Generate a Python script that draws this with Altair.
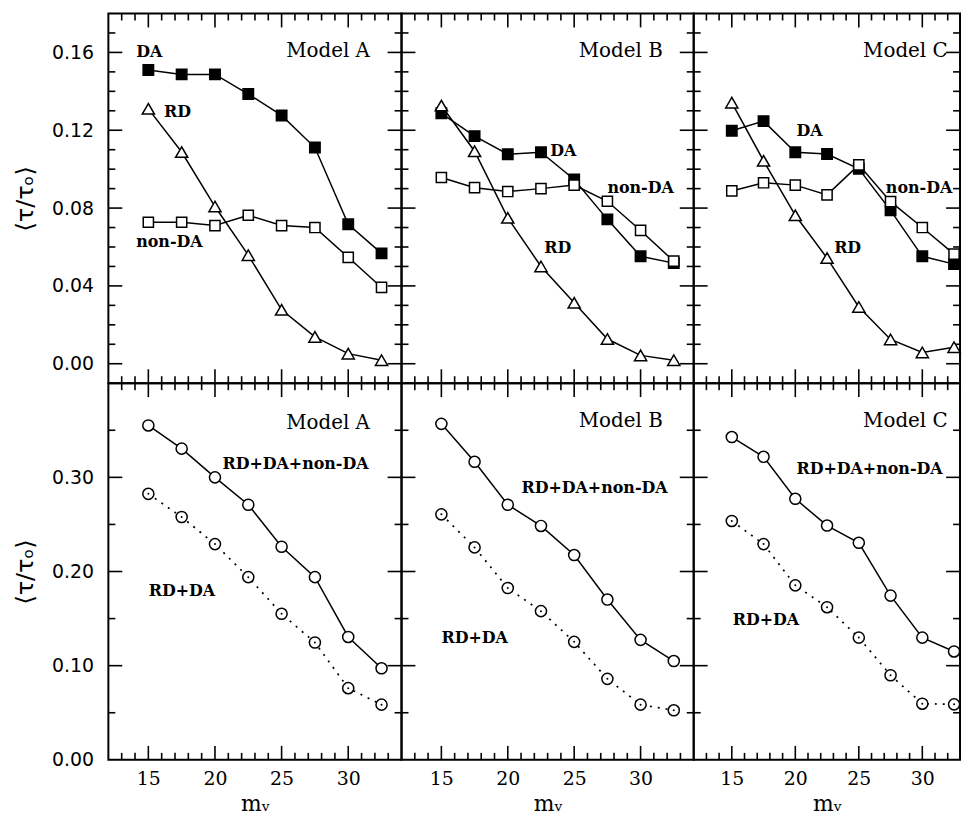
import altair as alt
import pandas as pd

# ---------------- data ----------------
MV = [15, 17.5, 20, 22.5, 25, 27.5, 30, 32.5]

A_DA = [0.1510, 0.1487, 0.1487, 0.1386, 0.1276, 0.1111, 0.0717, 0.0567]
A_RD = [0.1310, 0.1088, 0.0808, 0.0558, 0.0277, 0.0138, 0.0052, 0.0018]
A_NONDA = [0.0727, 0.0727, 0.0710, 0.0763, 0.0710, 0.0700, 0.0547, 0.0392]

B_DA = [0.1287, 0.1170, 0.1077, 0.1087, 0.0947, 0.0742, 0.0552, 0.0517]
B_RD = [0.1327, 0.1092, 0.0750, 0.0500, 0.0313, 0.0127, 0.0043, 0.0018]
B_NONDA = [0.0957, 0.0905, 0.0885, 0.0900, 0.0918, 0.0835, 0.0685, 0.0527]

C_DA = [0.1197, 0.1247, 0.1087, 0.1078, 0.1002, 0.0788, 0.0552, 0.0512]
C_RD = [0.1342, 0.1043, 0.0763, 0.0543, 0.0292, 0.0125, 0.0058, 0.0085]
C_NONDA = [0.0888, 0.0930, 0.0918, 0.0868, 0.1022, 0.0833, 0.0700, 0.0563]

A_ALL = [0.3551, 0.3305, 0.3000, 0.2709, 0.2263, 0.1940, 0.1305, 0.0972]
A_RDDA = [0.2825, 0.2579, 0.2291, 0.1940, 0.1551, 0.1246, 0.0761, 0.0586]
B_ALL = [0.3568, 0.3165, 0.2709, 0.2484, 0.2175, 0.1702, 0.1274, 0.1049]
B_RDDA = [0.2607, 0.2256, 0.1825, 0.1579, 0.1253, 0.0860, 0.0586, 0.0526]
C_ALL = [0.3428, 0.3218, 0.2772, 0.2488, 0.2305, 0.1744, 0.1298, 0.1151]
C_RDDA = [0.2537, 0.2291, 0.1853, 0.1621, 0.1298, 0.0898, 0.0596, 0.0589]

# text labels: (text, x, y, align, kind)
TOP_LABELS = {
    "A": [("Model A", 31.63, 0.1607, "right", "model"), ("DA", 14.09, 0.1602, "left", "tag"),
          ("RD", 16.18, 0.1296, "left", "tag"), ("non-DA", 14.09, 0.0625, "left", "tag")],
    "B": [("Model B", 31.67, 0.1607, "right", "model"), ("DA", 23.2, 0.1091, "left", "tag"),
          ("non-DA", 27.5, 0.0902, "left", "tag"), ("RD", 22.75, 0.0595, "left", "tag")],
    "C": [("Model C", 32.0, 0.1607, "right", "model"), ("DA", 20.09, 0.1196, "left", "tag"),
          ("non-DA", 27.13, 0.0902, "left", "tag"), ("RD", 23.06, 0.0595, "left", "tag")],
}
BOT_LABELS = {
    "A": [("Model A", 31.63, 0.3582, "right", "model"), ("RD+DA+non-DA", 20.56, 0.3144, "left", "tag"),
          ("RD+DA", 15.03, 0.1793, "left", "tag")],
    "B": [("Model B", 31.67, 0.3593, "right", "model"), ("RD+DA+non-DA", 21.03, 0.2891, "left", "tag"),
          ("RD+DA", 15.01, 0.1291, "left", "tag")],
    "C": [("Model C", 32.0, 0.3593, "right", "model"), ("RD+DA+non-DA", 20.09, 0.3091, "left", "tag"),
          ("RD+DA", 15.07, 0.1487, "left", "tag")],
}

# axis tick positions
X_MAJOR = [15, 20, 25, 30]
X_MINOR = [13, 14, 16, 17, 18, 19, 21, 22, 23, 24, 26, 27, 28, 29, 31, 32, 33]
TOP_Y_MAJOR = [0.0, 0.04, 0.08, 0.12, 0.16]
TOP_Y_MINOR = [0.01, 0.02, 0.03, 0.05, 0.06, 0.07, 0.09, 0.10, 0.11, 0.13, 0.14, 0.15, 0.17]
BOT_Y_MAJOR = [0.0, 0.1, 0.2, 0.3]
BOT_Y_MINOR = [0.05, 0.15, 0.25, 0.35]

# the right-hand panel is cut by the figure's right border
WIDTHS = {"A": 295, "B": 294, "C": 268}
XDOM = {"A": [12, 34], "B": [12, 34], "C": [12, 32.97]}
H_TOP = 372
H_BOT = 379
MAJ = 14
MIN = 7


def tick_layers(W, H, xs, ys, xax, yax, xmaj, xmin, ymaj, ymin):
    layers = []
    for vals, L in ((ymaj, MAJ), (ymin, MIN)):
        df = pd.DataFrame({"v": vals})
        base = alt.Chart(df).mark_rule(color="black", strokeWidth=1.6)
        layers.append(base.encode(y=alt.Y("v:Q", scale=ys, axis=yax), x=alt.value(0), x2=alt.value(L)))
        layers.append(base.encode(y=alt.Y("v:Q", scale=ys, axis=yax), x=alt.value(W), x2=alt.value(W - L)))
    for vals, L in ((xmaj, MAJ), (xmin, MIN)):
        df = pd.DataFrame({"v": vals})
        base = alt.Chart(df).mark_rule(color="black", strokeWidth=1.6)
        layers.append(base.encode(x=alt.X("v:Q", scale=xs, axis=xax), y=alt.value(H), y2=alt.value(H - L)))
        layers.append(base.encode(x=alt.X("v:Q", scale=xs, axis=xax), y=alt.value(0), y2=alt.value(L)))
    return layers


def text_layers(labels, xs, ys, xax, yax):
    layers = []
    for t, x, y, align, kind in labels:
        df = pd.DataFrame({"x": [x], "y": [y], "t": [t]})
        if kind == "model":
            mk = alt.Chart(df).mark_text(align=align, baseline="middle", font="DejaVu Serif",
                                         fontSize=20, color="black")
        else:
            mk = alt.Chart(df).mark_text(align=align, baseline="middle", font="DejaVu Serif",
                                         fontSize=16, fontWeight="bold", color="black")
        layers.append(mk.encode(x=alt.X("x:Q", scale=xs, axis=xax), y=alt.Y("y:Q", scale=ys, axis=yax),
                                text="t:N"))
    return layers


def y_axis(values, show):
    if not show:
        return None
    return alt.Axis(values=values, format=".2f", ticks=False, tickSize=0, domain=False, grid=False,
                    labelFont="DejaVu Sans", labelFontSize=19, labelPadding=15, labelColor="black",
                    title="⟨τ/τₒ⟩", titleFont="DejaVu Sans", titleFontSize=24,
                    titleFontWeight="normal", titlePadding=14, titleColor="black")


def x_axis(show):
    if not show:
        return None
    return alt.Axis(values=X_MAJOR, format="d", ticks=False, tickSize=0, domain=False, grid=False,
                    labelFont="DejaVu Serif", labelFontSize=19, labelPadding=10, labelColor="black",
                    title="mᵥ", titleFont="DejaVu Serif", titleFontSize=22,
                    titleFontWeight="normal", titlePadding=5, titleColor="black")


def top_panel(key, da, rd, nonda):
    W = WIDTHS[key]
    xs = alt.Scale(domain=XDOM[key], nice=False, zero=False)
    ys = alt.Scale(domain=[-0.01, 0.18], nice=False, zero=False)
    xax = None
    yax = y_axis(TOP_Y_MAJOR, key == "A")
    layers = []
    specs = [
        (da, dict(shape="square", filled=True, fill="black", stroke="black", size=110)),
        (nonda, dict(shape="square", filled=True, fill="white", stroke="black", size=105)),
        (rd, dict(shape="triangle-up", filled=True, fill="white", stroke="black", size=150)),
    ]
    xmin = [v for v in X_MINOR if v < XDOM[key][1] - 0.3]
    layers += tick_layers(W, H_TOP, xs, ys, xax, yax, X_MAJOR, xmin, TOP_Y_MAJOR, TOP_Y_MINOR)
    for vals, style in specs:
        df = pd.DataFrame({"x": MV, "y": vals})
        enc = dict(x=alt.X("x:Q", scale=xs, axis=xax), y=alt.Y("y:Q", scale=ys, axis=yax))
        layers.append(alt.Chart(df).mark_line(color="black", strokeWidth=1.5).encode(**enc))
        layers.append(alt.Chart(df).mark_point(strokeWidth=1.5, opacity=1, **style).encode(**enc))
    layers += text_layers(TOP_LABELS[key], xs, ys, xax, yax)
    return alt.layer(*layers).properties(width=W, height=H_TOP)


def bot_panel(key, allv, rdda):
    W = WIDTHS[key]
    xs = alt.Scale(domain=XDOM[key], nice=False, zero=False)
    ys = alt.Scale(domain=[0.0, 0.40], nice=False, zero=False)
    xax = x_axis(True)
    yax = y_axis(BOT_Y_MAJOR, key == "A")
    xmin = [v for v in X_MINOR if v < XDOM[key][1] - 0.3]
    layers = tick_layers(W, H_BOT, xs, ys, xax, yax, X_MAJOR, xmin, BOT_Y_MAJOR[1:], BOT_Y_MINOR)
    for vals, dash in ((allv, None), (rdda, [2, 6])):
        df = pd.DataFrame({"x": MV, "y": vals})
        enc = dict(x=alt.X("x:Q", scale=xs, axis=xax), y=alt.Y("y:Q", scale=ys, axis=yax))
        if dash:
            ln = alt.Chart(df).mark_line(color="black", strokeWidth=1.7, strokeDash=dash)
        else:
            ln = alt.Chart(df).mark_line(color="black", strokeWidth=1.5)
        layers.append(ln.encode(**enc))
        layers.append(alt.Chart(df).mark_point(shape="circle", filled=True, fill="white", stroke="black",
                                               strokeWidth=1.5, size=125, opacity=1).encode(**enc))
        if dash:
            layers.append(alt.Chart(df).mark_point(shape="circle", filled=True, fill="black",
                                                   size=4, opacity=1, strokeWidth=0).encode(**enc))
    layers += text_layers(BOT_LABELS[key], xs, ys, xax, yax)
    return alt.layer(*layers).properties(width=W, height=H_BOT)


panels = [
    top_panel("A", A_DA, A_RD, A_NONDA),
    top_panel("B", B_DA, B_RD, B_NONDA),
    top_panel("C", C_DA, C_RD, C_NONDA),
    bot_panel("A", A_ALL, A_RDDA),
    bot_panel("B", B_ALL, B_RDDA),
    bot_panel("C", C_ALL, C_RDDA),
]

chart = alt.concat(*panels, columns=3, spacing=0, bounds="flush").properties(
    padding={"left": 4, "top": 1, "right": 0, "bottom": 0},
    background="white",
).configure_view(stroke="black", strokeWidth=2).configure_axis(grid=False)

chart.save("out.html", embed_options={"renderer": "svg", "actions": False})
